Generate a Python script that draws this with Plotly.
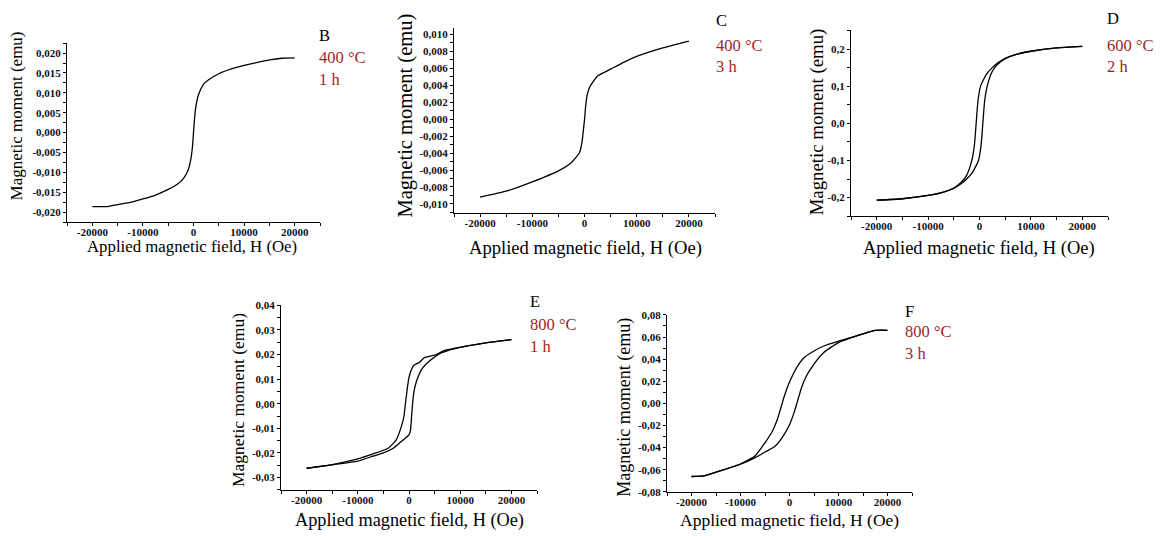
import plotly.graph_objects as go

# ---- Panel B: 400 °C, 1 h (single branch, no visible hysteresis) ----
B_H = [-20000, -17000, -15000, -12000, -10000, -7500, -5000, -3000, -2000, -1000, -500, -200,
       0, 200, 500, 1000, 2000, 3000, 5000, 7500, 10000, 12000, 15000, 17500, 20000]
B_M = [-0.0186, -0.0186, -0.0181, -0.0174, -0.0167, -0.0157, -0.0143, -0.0128, -0.0116, -0.0092,
       -0.0065, -0.0035, 0.0000, 0.0035, 0.0068, 0.0096, 0.0122, 0.0133, 0.0148, 0.0160, 0.0169,
       0.0175, 0.0183, 0.0187, 0.0188]

# ---- Panel C: 400 °C, 3 h ----
C_H = [-20000, -15000, -10000, -5000, -2500, -1000, -500, -200, 0, 200, 500, 1000, 2500,
       5000, 7500, 10000, 15000, 20000]
C_M = [-0.0092, -0.0085, -0.0074, -0.0061, -0.0051, -0.0040, -0.0028, -0.0012, -0.0001, 0.0014,
       0.0028, 0.0038, 0.0051, 0.0059, 0.0067, 0.0074, 0.0084, 0.0092]

# ---- Panel D: 600 °C, 2 h (ascending and descending branches) ----
D_H_up = [-20000, -15000, -10000, -7000, -5000, -3500, -2500, -1500, -800, -200, 300, 650, 1000,
          1500, 2500, 3500, 5000, 7000, 10000, 15000, 20000]
D_M_up = [-0.207, -0.203, -0.194, -0.185, -0.175, -0.162, -0.150, -0.135, -0.118, -0.100, -0.060,
          0.000, 0.060, 0.100, 0.140, 0.158, 0.174, 0.185, 0.194, 0.203, 0.207]
D_H_down = [20000, 15000, 10000, 7000, 5000, 3500, 2500, 1500, 800, 200, -300, -650, -1000,
            -1500, -2500, -3500, -5000, -7000, -10000, -15000, -20000]
D_M_down = [0.207, 0.203, 0.194, 0.185, 0.175, 0.162, 0.150, 0.135, 0.118, 0.100, 0.060,
            0.000, -0.060, -0.100, -0.140, -0.158, -0.174, -0.185, -0.194, -0.203, -0.207]

# ---- Panel E: 800 °C, 1 h ----
E_H_up = [-20000, -15000, -10000, -7000, -5000, -3000, -1500, 0, 300, 500, 700, 1000, 1500,
          2500, 4000, 6000, 8000, 10000, 15000, 20000]
E_M_up = [-0.0262, -0.0248, -0.0233, -0.0213, -0.0200, -0.0180, -0.0153, -0.0127, -0.0107,
          -0.0053, 0.0000, 0.0053, 0.0093, 0.0140, 0.0173, 0.0203, 0.0218, 0.0229, 0.0247, 0.0260]
E_H_down = [20000, 15000, 10000, 7000, 5000, 3000, 2000, 1000, 500, 0, -300, -700, -1000,
            -1500, -2500, -4000, -7000, -10000, -15000, -20000]
E_M_down = [0.0260, 0.0247, 0.0229, 0.0216, 0.0197, 0.0187, 0.0167, 0.0157, 0.0140, 0.0107,
            0.0067, 0.0000, -0.0053, -0.0093, -0.0147, -0.0180, -0.0204, -0.0224, -0.0247, -0.0262]

# ---- Panel F: 800 °C, 3 h ----
F_H_up = [-20000, -17500, -15000, -10000, -7000, -5000, -3000, -1500, 0, 1000, 1500, 2500,
          3500, 5000, 7000, 10000, 15000, 17500, 20000]
F_M_up = [-0.0661, -0.0655, -0.0622, -0.0550, -0.0490, -0.0440, -0.0390, -0.0310, -0.0193,
          -0.0074, 0.0000, 0.0148, 0.0252, 0.0356, 0.0460, 0.0550, 0.0628, 0.0660, 0.0661]
F_H_down = [20000, 17500, 15000, 10000, 7000, 5000, 3000, 1500, 0, -1000, -1500, -2500,
            -3500, -5000, -7000, -10000, -15000, -17500, -20000]
F_M_down = [0.0661, 0.0660, 0.0628, 0.0563, 0.0519, 0.0474, 0.0415, 0.0326, 0.0193, 0.0074,
            0.0000, -0.0148, -0.0252, -0.0356, -0.0474, -0.0548, -0.0622, -0.0655, -0.0661]

# ---- Tick values and labels ----
H_TICKS = [-20000, -10000, 0, 10000, 20000]
H_TICK_LABELS = ["-20000", "-10000", "0", "10000", "20000"]

B_YTICKS = [-0.020, -0.015, -0.010, -0.005, 0.000, 0.005, 0.010, 0.015, 0.020]
B_YTICK_LABELS = ["-0,020", "-0,015", "-0,010", "-0,005", "0,000", "0,005", "0,010", "0,015",
                  "0,020"]
C_YTICKS = [-0.010, -0.008, -0.006, -0.004, -0.002, 0.000, 0.002, 0.004, 0.006, 0.008, 0.010]
C_YTICK_LABELS = ["-0,010", "-0,008", "-0,006", "-0,004", "-0,002", "0,000", "0,002", "0,004",
                  "0,006", "0,008", "0,010"]
D_YTICKS = [-0.2, -0.1, 0.0, 0.1, 0.2]
D_YTICK_LABELS = ["-0,2", "-0,1", "0,0", "0,1", "0,2"]
E_YTICKS = [-0.03, -0.02, -0.01, 0.00, 0.01, 0.02, 0.03, 0.04]
E_YTICK_LABELS = ["-0,03", "-0,02", "-0,01", "0,00", "0,01", "0,02", "0,03", "0,04"]
F_YTICKS = [-0.08, -0.06, -0.04, -0.02, 0.00, 0.02, 0.04, 0.06, 0.08]
F_YTICK_LABELS = ["-0,08", "-0,06", "-0,04", "-0,02", "0,00", "0,02", "0,04", "0,06", "0,08"]

PANEL_LETTERS = ["B", "C", "D", "E", "F"]
TEMPERATURES = ["400 °C", "400 °C", "600 °C", "800 °C", "800 °C"]
DURATIONS = ["1 h", "3 h", "2 h", "1 h", "3 h"]

X_TITLE = "Applied magnetic field, H (Oe)"
Y_TITLE = "Magnetic moment (emu)"

W, H = 1163, 536
SERIF = "Liberation Serif, Times New Roman, serif"
RED = "#9e1f1f"


def px_x(p):
    return p / W


def px_y(p):
    return 1 - p / H


# Panel geometry in pixels: left, right, top, bottom of the plotting area
panels = [
    dict(curves=[(B_H, B_M)], box=(67, 320, 38, 221), yr=[-0.0225, 0.0225],
         yt=(B_YTICKS, B_YTICK_LABELS), ytitle=(16, 113, 17), xtitle=(192, 246, 16.8),
         text=(317, 30, 53, 75)),
    dict(curves=[(C_H, C_M)], box=(454, 715, 23, 212), yr=[-0.0111, 0.0107],
         yt=(C_YTICKS, C_YTICK_LABELS), ytitle=(405, 112, 20.5), xtitle=(585, 248, 18.6),
         text=(714, 15, 40, 62)),
    dict(curves=[(D_H_up, D_M_up), (D_H_down, D_M_down)], box=(851, 1108, 25, 215),
         yr=[-0.25, 0.25], yt=(D_YTICKS, D_YTICK_LABELS), ytitle=(817, 119, 18.8),
         xtitle=(979, 248, 18.5), text=(1105, 13, 40, 62)),
    dict(curves=[(E_H_up, E_M_up), (E_H_down, E_M_down)], box=(281, 537, 306, 495),
         yr=[-0.035, 0.04], yt=(E_YTICKS, E_YTICK_LABELS), ytitle=(238, 403, 17.5),
         xtitle=(409, 526, 18.3), text=(528, 302, 326, 348)),
    dict(curves=[(F_H_up, F_M_up), (F_H_down, F_M_down)], box=(667, 912, 316, 497),
         yr=[-0.08, 0.08], yt=(F_YTICKS, F_YTICK_LABELS), ytitle=(625, 411, 18),
         xtitle=(789, 526, 17.5), text=(903, 312, 333, 355)),
]

fig = go.Figure()
annotations = []
layout_axes = {}

for i, p in enumerate(panels):
    n = "" if i == 0 else str(i + 1)
    xa, ya = "x" + n, "y" + n
    for hx, my in p["curves"]:
        fig.add_trace(go.Scatter(x=hx, y=my, mode="lines", xaxis=xa, yaxis=ya,
                                 line=dict(color="black", width=1.3, shape="spline",
                                           smoothing=0.5),
                                 showlegend=False, hoverinfo="skip"))
    l, r, t, b = p["box"]
    yvals, ylabels = p["yt"]
    ystep = yvals[1] - yvals[0]
    common = dict(showline=True, linecolor="black", linewidth=1, mirror=False,
                  ticks="outside", ticklen=3, tickwidth=1, tickcolor="black",
                  showgrid=False, zeroline=False,
                  tickfont=dict(family=SERIF, size=11, color="#111111", weight="bold"))
    layout_axes["xaxis" + n] = dict(
        common, domain=[px_x(l), px_x(r)], range=[-25000, 25000], anchor=ya,
        tickmode="array", tickvals=H_TICKS, ticktext=H_TICK_LABELS, ticklabelstandoff=-3,
        minor=dict(ticks="outside", ticklen=3, dtick=5000, tick0=0, tickcolor="black"))
    layout_axes["yaxis" + n] = dict(
        common, domain=[px_y(b), px_y(t)], range=p["yr"], anchor=xa,
        tickmode="array", tickvals=yvals, ticktext=ylabels,
        minor=dict(ticks="outside", ticklen=3, dtick=ystep / 2, tick0=0,
                   tickcolor="black"))

    yx, yy, ys = p["ytitle"]
    annotations.append(dict(text=Y_TITLE, x=px_x(yx), y=px_y(yy), xref="paper",
                            yref="paper", showarrow=False, textangle=-90,
                            font=dict(family=SERIF, size=ys, color="black"),
                            xanchor="center", yanchor="middle"))
    xx, xy, xs = p["xtitle"]
    annotations.append(dict(text=X_TITLE, x=px_x(xx), y=px_y(xy), xref="paper",
                            yref="paper", showarrow=False,
                            font=dict(family=SERIF, size=xs, color="black"),
                            xanchor="center", yanchor="middle"))
    tx, t1, t2, t3 = p["text"]
    for txt, ty, col in ((PANEL_LETTERS[i], t1, "black"), (TEMPERATURES[i], t2, RED),
                         (DURATIONS[i], t3, RED)):
        annotations.append(dict(text=txt, x=px_x(tx), y=px_y(ty), xref="paper",
                                yref="paper", showarrow=False,
                                font=dict(family=SERIF, size=16.5, color=col),
                                xanchor="left", yanchor="middle"))

fig.update_layout(
    width=W, height=H, margin=dict(l=0, r=0, t=0, b=0),
    paper_bgcolor="white", plot_bgcolor="white",
    annotations=annotations, **layout_axes)

fig.write_html("out.html", config={"displayModeBar": False})
